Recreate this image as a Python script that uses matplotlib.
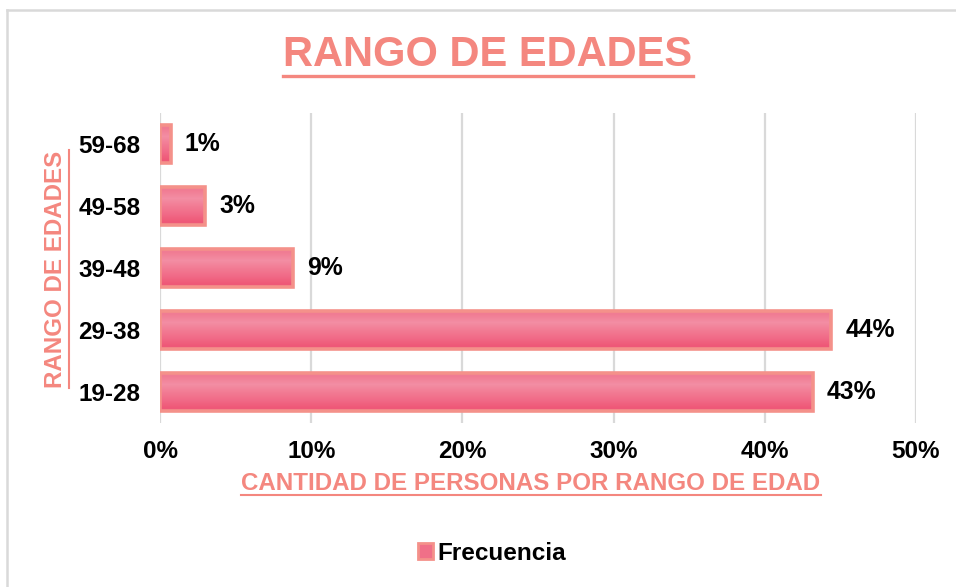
import numpy as np
import matplotlib
matplotlib.use('Agg')
import matplotlib.pyplot as plt
from matplotlib.patches import Patch
from matplotlib.lines import Line2D

# data (bottom to top)
categories = ['19-28', '29-38', '39-48', '49-58', '59-68']
values = [43.2, 44.4, 8.8, 3.0, 0.7]
xticks = [0, 10, 20, 30, 40, 50]
xtick_labels = ['0%', '10%', '20%', '30%', '40%', '50%']

title = 'RANGO DE EDADES'
xlabel = 'CANTIDAD DE PERSONAS POR RANGO DE EDAD'
ylabel = 'RANGO DE EDADES'
legend_label = 'Frecuencia'

SALMON = '#f4918a'
TEXT_SALMON = '#f4877f'
GRID = '#d9d9d9'

plt.rcParams['font.family'] = ['Liberation Sans', 'DejaVu Sans']

W, H = 956, 587
fig = plt.figure(figsize=(W / 100, H / 100), dpi=100)
ax = fig.add_axes([160 / W, 1 - 423 / H, 756 / W, 310 / H])

# gradient for bars: light pink at top, deeper at bottom
grad_cols = np.array([
    [0.937, 0.349, 0.471],
    [0.945, 0.420, 0.533],
    [0.949, 0.486, 0.580],
    [0.953, 0.557, 0.643],
    [0.945, 0.490, 0.580],
])
grad = grad_cols[:, None, :]

bar_h = 0.6
y = np.arange(len(categories))
for yi, v in zip(y, values):
    ax.imshow(grad, extent=(0, v, yi - bar_h / 2, yi + bar_h / 2), origin='lower',
              aspect='auto', interpolation='bilinear', zorder=2)
    ax.add_patch(plt.Rectangle((0, yi - bar_h / 2), v, bar_h, facecolor='none',
                               edgecolor=SALMON, linewidth=2.6, zorder=3))
    ax.annotate(f'{v:.0f}%', xy=(v, yi), xytext=(10, 0), textcoords='offset points',
                ha='left', va='center', fontsize=17.8, fontweight='bold', color='black')

ax.set_xlim(0, 50)
ax.set_ylim(-0.5, len(categories) - 0.5)
ax.set_xticks(xticks)
ax.set_xticklabels(xtick_labels, fontsize=17.5, fontweight='bold')
ax.set_yticks(y)
ax.set_yticklabels(categories, fontsize=17.5, fontweight='bold')
ax.tick_params(axis='x', length=0, pad=12)
ax.tick_params(axis='y', length=0, pad=14)
ax.xaxis.grid(True, color=GRID, linewidth=1.6, zorder=0)
ax.set_axisbelow(True)
for s in ax.spines.values():
    s.set_visible(False)

# texts with underlines
t_title = fig.text(488 / W, 1 - 55 / H, title, ha='center', va='center',
                   fontsize=30, fontweight='bold', color=TEXT_SALMON)
t_xl = fig.text(531 / W, 1 - 483 / H, xlabel, ha='center', va='center',
                fontsize=17.4, fontweight='bold', color=TEXT_SALMON)
t_yl = fig.text(56 / W, 1 - 269 / H, ylabel, ha='center', va='center', rotation=90,
                fontsize=17.4, fontweight='bold', color=TEXT_SALMON)

fig.canvas.draw()
r = fig.canvas.get_renderer()
for t, lw, gap in [(t_title, 2.4, 3), (t_xl, 1.5, 2)]:
    bb = t.get_window_extent(r)
    yy = (bb.y0 + 2 - gap) / H
    fig.add_artist(Line2D([bb.x0 / W, bb.x1 / W], [yy, yy], color=TEXT_SALMON, lw=lw))
bb = t_yl.get_window_extent(r)
xx = (bb.x1 + 1) / W
fig.add_artist(Line2D([xx, xx], [bb.y0 / H, bb.y1 / H], color=TEXT_SALMON, lw=1.5))

# legend
handle = Patch(facecolor='#f07088', edgecolor=SALMON, linewidth=2)
fig.legend([handle], [legend_label], loc='center', bbox_to_anchor=(492 / W, 1 - 553 / H),
           frameon=False, prop={'size': 17.5, 'weight': 'bold'},
           handlelength=0.6, handleheight=0.6, handletextpad=0.2)

# outer chart frame (partially visible)
fig.add_artist(Line2D([7 / W, 7 / W], [0, 1 - 10 / H], color=GRID, lw=1.8))
fig.add_artist(Line2D([7 / W, 1], [1 - 10 / H, 1 - 10 / H], color=GRID, lw=1.8))

fig.savefig('out.png', dpi=100)
